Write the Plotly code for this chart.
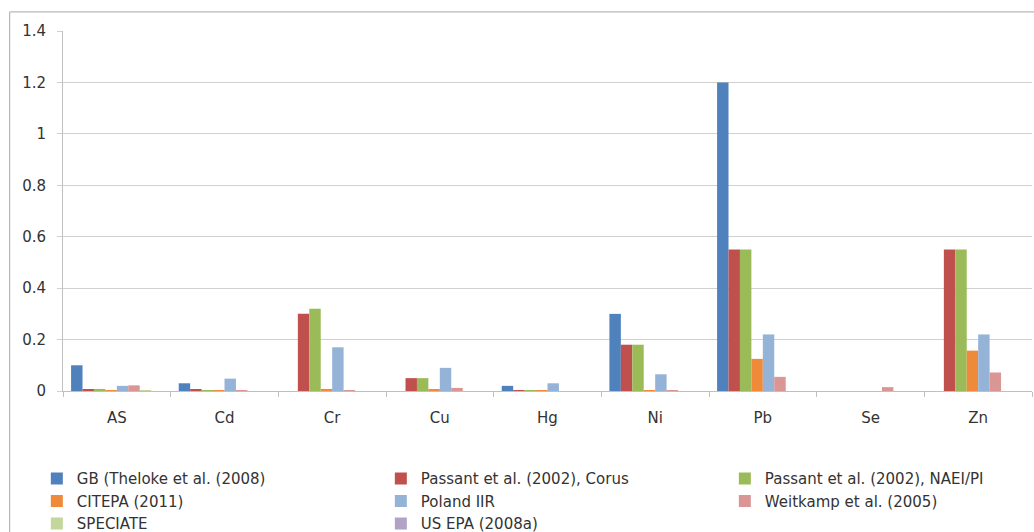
import plotly.graph_objects as go

categories = ["AS", "Cd", "Cr", "Cu", "Hg", "Ni", "Pb", "Se", "Zn"]

gb_theloke = [0.10, 0.03, 0.0, 0.0, 0.02, 0.30, 1.20, 0.0, 0.0]
passant_corus = [0.005, 0.005, 0.30, 0.05, 0.003, 0.18, 0.55, 0.0, 0.55]
passant_naei = [0.008, 0.003, 0.32, 0.05, 0.003, 0.18, 0.55, 0.0, 0.55]
citepa = [0.003, 0.001, 0.008, 0.005, 0.001, 0.003, 0.125, 0.0, 0.157]
poland_iir = [0.02, 0.048, 0.17, 0.09, 0.03, 0.065, 0.22, 0.0, 0.22]
weitkamp = [0.022, 0.003, 0.003, 0.012, 0.0, 0.003, 0.055, 0.015, 0.072]
speciate = [0.002, 0.0, 0.0, 0.0, 0.0, 0.0, 0.0, 0.0, 0.0]
us_epa = [0.0, 0.0, 0.0, 0.0, 0.0, 0.0, 0.0, 0.0, 0.0]

series_names = [
    "GB (Theloke et al. (2008)",
    "Passant et al. (2002), Corus",
    "Passant et al. (2002), NAEI/PI",
    "CITEPA (2011)",
    "Poland IIR",
    "Weitkamp et al. (2005)",
    "SPECIATE",
    "US EPA (2008a)",
]
series_values = [gb_theloke, passant_corus, passant_naei, citepa, poland_iir, weitkamp, speciate, us_epa]
colors = ["#4F81BD", "#C0504D", "#9BBB59", "#EE8A3A", "#95B3D7", "#D99694", "#C3D69B", "#B3A2C7"]

y_ticks = [0, 0.2, 0.4, 0.6, 0.8, 1.0, 1.2, 1.4]
y_tick_labels = ["0", "0.2", "0.4", "0.6", "0.8", "1", "1.2", "1.4"]

fig = go.Figure()
for name, vals, col in zip(series_names, series_values, colors):
    fig.add_trace(go.Bar(x=categories, y=vals, name=name, marker=dict(color=col, line=dict(width=0))))

font_fam = "DejaVu Sans, sans-serif"
txt_col = "#333333"
fig.update_layout(
    width=1034, height=532,
    margin=dict(l=63, r=2, t=31, b=141, autoexpand=False),
    paper_bgcolor="white", plot_bgcolor="white",
    barmode="group", bargap=0.15, bargroupgap=0,
    font=dict(family=font_fam, size=15, color=txt_col),
    showlegend=True,
    legend=dict(
        orientation="h", x=-0.027, xanchor="left", y=-0.198, yanchor="top",
        entrywidth=299, entrywidthmode="pixels",
        font=dict(family=font_fam, size=15, color=txt_col),
        itemwidth=30, tracegroupgap=0,
        bgcolor="rgba(0,0,0,0)",
    ),
    xaxis=dict(
        type="category", showline=True, linecolor="#BFBFBF", linewidth=1,
        ticks="outside", tickson="boundaries", ticklen=5, tickcolor="#BFBFBF",
        showgrid=False, ticklabelstandoff=13,
        tickfont=dict(family=font_fam, size=15, color=txt_col),
    ),
    yaxis=dict(
        range=[0, 1.4], tickvals=y_ticks, ticktext=y_tick_labels,
        showline=True, linecolor="#BFBFBF", linewidth=1,
        showgrid=True, gridcolor="#D0D0D0", gridwidth=1,
        ticks="outside", ticklen=5, tickcolor="#D0D0D0",
        ticklabelstandoff=8, zeroline=False,
        tickfont=dict(family=font_fam, size=15, color=txt_col),
    ),
    shapes=[dict(type="rect", xref="paper", yref="paper",
                 x0=-0.055, x1=1.2, y0=-1.0, y1=1.053,
                 line=dict(color="#A6A6A6", width=1), fillcolor="rgba(0,0,0,0)", layer="below")],
)

fig.write_html("out.html", config={"displayModeBar": False},
               post_script="document.body.style.margin='0';")
